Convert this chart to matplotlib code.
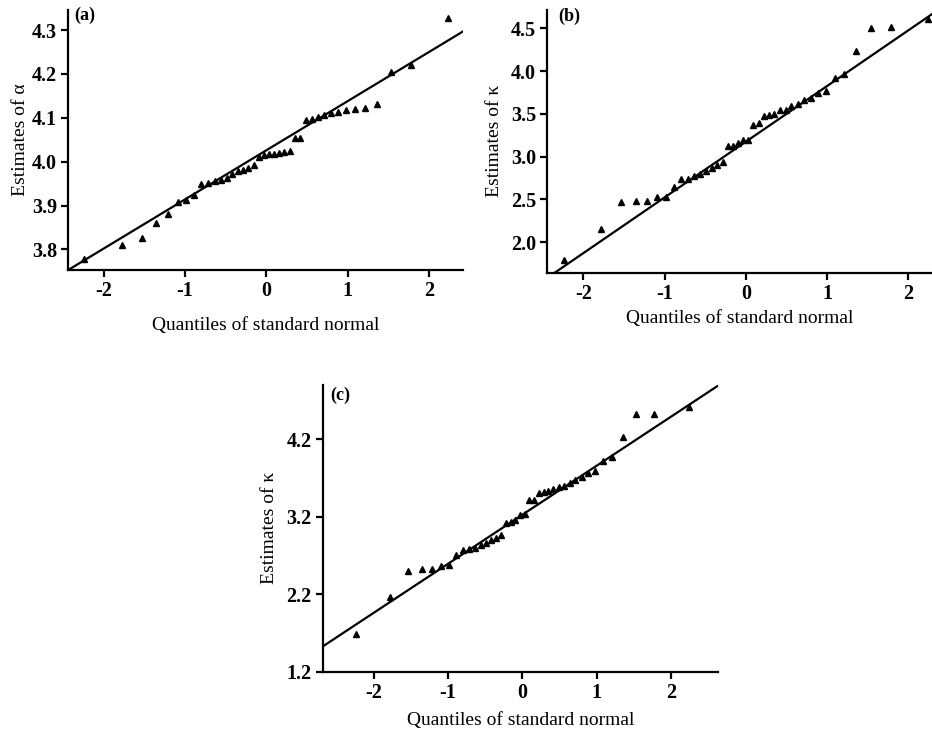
import numpy as np
import matplotlib
matplotlib.use("Agg")
import matplotlib.pyplot as plt

plt.rcParams['font.family'] = ['Liberation Serif', 'DejaVu Serif']
plt.rcParams['axes.unicode_minus'] = False

# quantiles of standard normal (40 points)
q = [-2.241, -1.780, -1.534, -1.356, -1.213, -1.092, -0.984, -0.887, -0.798, -0.714,
     -0.636, -0.561, -0.489, -0.419, -0.352, -0.286, -0.221, -0.157, -0.094, -0.031,
     0.031, 0.094, 0.157, 0.221, 0.286, 0.352, 0.419, 0.489, 0.561, 0.636,
     0.714, 0.798, 0.887, 0.984, 1.092, 1.213, 1.356, 1.534, 1.780, 2.241]

# (a) estimates of alpha
alpha_est = [3.779, 3.810, 3.827, 3.861, 3.881, 3.909, 3.913, 3.925, 3.950, 3.952,
             3.956, 3.958, 3.963, 3.973, 3.979, 3.982, 3.986, 3.992, 4.011, 4.015,
             4.017, 4.017, 4.019, 4.022, 4.025, 4.054, 4.054, 4.094, 4.097, 4.103,
             4.107, 4.111, 4.114, 4.118, 4.120, 4.123, 4.132, 4.205, 4.220, 4.327]

# (b) estimates of kappa
kappa_b = [1.79, 2.16, 2.47, 2.48, 2.48, 2.53, 2.53, 2.65, 2.74, 2.74,
           2.77, 2.80, 2.83, 2.87, 2.90, 2.94, 3.12, 3.13, 3.16, 3.20,
           3.19, 3.37, 3.39, 3.47, 3.49, 3.50, 3.55, 3.55, 3.59, 3.62,
           3.66, 3.69, 3.74, 3.77, 3.92, 3.97, 4.23, 4.50, 4.52, 4.61]

# (c) estimates of kappa
kappa_c = [1.69, 2.16, 2.50, 2.52, 2.53, 2.56, 2.58, 2.70, 2.77, 2.78,
           2.80, 2.83, 2.86, 2.90, 2.93, 2.97, 3.12, 3.13, 3.16, 3.22,
           3.24, 3.41, 3.42, 3.51, 3.52, 3.53, 3.56, 3.58, 3.60, 3.64,
           3.68, 3.71, 3.76, 3.79, 3.92, 3.97, 4.23, 4.52, 4.53, 4.61]

# reference lines (intercept, slope)
line_a = (4.026, 0.112)
line_b = (3.175, 0.651)
line_c = (3.225, 0.632)

fig = plt.figure(figsize=(9.32, 7.34), dpi=100)

def qq_panel(rect, y, line, xlim, ylim, yticks, ylabel, tag, tagpos, ylab_x, xlab_y):
    ax = fig.add_axes(rect)
    ax.plot(q, y, linestyle='none', marker='^', markersize=4.8, color='k')
    ax.axline((0, line[0]), slope=line[1], color='k', lw=1.6)
    ax.set_xlim(xlim)
    ax.set_ylim(ylim)
    ax.set_xticks([-2, -1, 0, 1, 2])
    ax.set_yticks(yticks)
    ax.set_yticklabels(['%.1f' % v for v in yticks])
    for s in ['top', 'right']:
        ax.spines[s].set_visible(False)
    for s in ['left', 'bottom']:
        ax.spines[s].set_linewidth(1.6)
    ax.tick_params(direction='out', length=5, width=1.6, labelsize=14.5, pad=3)
    for lab in ax.get_xticklabels() + ax.get_yticklabels():
        lab.set_fontweight('bold')
    ax.set_xlabel('Quantiles of standard normal', fontsize=14)
    ax.set_ylabel(ylabel, fontsize=14)
    ax.yaxis.set_label_coords(ylab_x, 0.5)
    ax.xaxis.set_label_coords(0.5, xlab_y)
    ax.text(tagpos[0], tagpos[1], tag, transform=ax.transAxes, fontsize=13,
            fontweight='bold', va='center', ha='left')
    return ax

qq_panel([0.0730, 0.6322, 0.4238, 0.3542], alpha_est, line_a, (-2.44, 2.42), (3.753, 4.346),
         [3.8, 3.9, 4.0, 4.1, 4.2, 4.3], 'Estimates of α', '(a)', (0.015, 0.981), -0.1, -0.181)
qq_panel([0.5872, 0.6285, 0.4128, 0.3579], kappa_b, line_b, (-2.443, 2.29), (1.645, 4.714),
         [2.0, 2.5, 3.0, 3.5, 4.0, 4.5], 'Estimates of κ', '(b)', (0.028, 0.975), -0.115, -0.142)
qq_panel([0.3462, 0.0849, 0.4245, 0.3906], kappa_c, line_c, (-2.69, 2.64), (1.2, 4.9),
         [1.2, 2.2, 3.2, 4.2], 'Estimates of κ', '(c)', (0.018, 0.965), -0.112, -0.141)

fig.savefig('out.png', dpi=100)
